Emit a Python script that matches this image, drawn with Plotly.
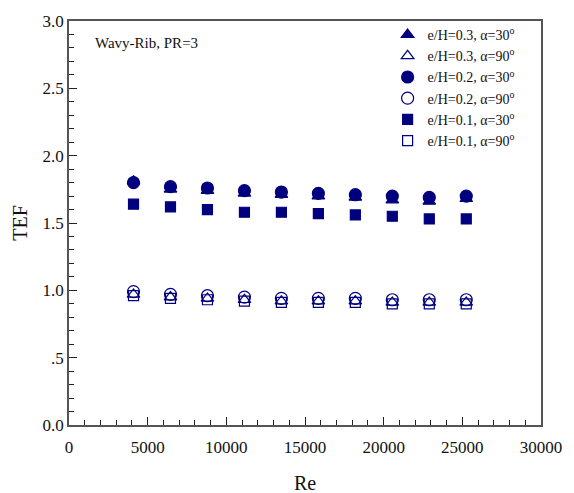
import plotly.graph_objects as go

# Reynolds numbers of the test runs
re_vals = [4100, 6450, 8800, 11150, 13500, 15850, 18200, 20550, 22900, 25250]

# Thermal enhancement factor for each rib configuration
tef_h03_a30 = [1.81, 1.75, 1.74, 1.72, 1.71, 1.70, 1.69, 1.67, 1.66, 1.68]
tef_h03_a90 = [0.97, 0.95, 0.94, 0.93, 0.92, 0.92, 0.92, 0.91, 0.91, 0.91]
tef_h02_a30 = [1.80, 1.77, 1.76, 1.74, 1.73, 1.72, 1.71, 1.70, 1.69, 1.70]
tef_h02_a90 = [0.99, 0.97, 0.96, 0.95, 0.94, 0.94, 0.94, 0.93, 0.93, 0.93]
tef_h01_a30 = [1.64, 1.62, 1.60, 1.58, 1.58, 1.57, 1.56, 1.55, 1.53, 1.53]
tef_h01_a90 = [0.96, 0.94, 0.93, 0.92, 0.91, 0.91, 0.91, 0.90, 0.90, 0.90]

series_names = [
    "e/H=0.3, α=30<sup>o</sup>",
    "e/H=0.3, α=90<sup>o</sup>",
    "e/H=0.2, α=30<sup>o</sup>",
    "e/H=0.2, α=90<sup>o</sup>",
    "e/H=0.1, α=30<sup>o</sup>",
    "e/H=0.1, α=90<sup>o</sup>",
]
series_values = [tef_h03_a30, tef_h03_a90, tef_h02_a30, tef_h02_a90, tef_h01_a30, tef_h01_a90]
series_symbols = ["triangle-up", "triangle-up-open", "circle", "circle-open", "square", "square-open"]
series_sizes = [11, 11, 12, 12, 10, 10]

y_ticks = [0.0, 0.5, 1.0, 1.5, 2.0, 2.5, 3.0]
y_tick_text = ["0.0", ".5", "1.0", "1.5", "2.0", "2.5", "3.0"]
x_ticks = [0, 5000, 10000, 15000, 20000, 25000, 30000]

NAVY = "#00007f"
FONT = "Liberation Serif"

fig = go.Figure()
for name, vals, sym, size in zip(series_names, series_values, series_symbols, series_sizes):
    fig.add_trace(go.Scatter(
        x=re_vals, y=vals, mode="markers", name=name,
        marker=dict(symbol=sym, size=size, color=NAVY, line=dict(color=NAVY, width=1.2)),
    ))

axis_common = dict(
    showgrid=False, zeroline=False, showline=True, mirror=True,
    linecolor="#555555", linewidth=1.5,
    ticks="inside", ticklen=8, tickwidth=1, tickcolor="#222222",
    tickfont=dict(family=FONT, size=17, color="#111111"),
)

fig.update_xaxes(
    range=[0, 30000], tickvals=x_ticks, ticktext=[str(v) for v in x_ticks],
    ticklabelstandoff=6,
    minor=dict(dtick=1000, ticks="inside", ticklen=5, tickcolor="#222222"),
    **axis_common,
)
fig.update_yaxes(
    range=[0, 3], tickvals=y_ticks, ticktext=y_tick_text,
    minor=dict(dtick=0.1, ticks="inside", ticklen=5, tickcolor="#222222"),
    title=dict(text="TEF", font=dict(family=FONT, size=20, color="#111111"), standoff=10),
    **axis_common,
)

# x-axis title placed as a paper annotation so the bottom margin stays fixed
fig.add_annotation(
    text="Re", xref="paper", yref="paper", x=0.5, y=-0.143,
    xanchor="center", yanchor="middle", showarrow=False,
    font=dict(family=FONT, size=20, color="#111111"),
)

fig.add_annotation(
    text="Wavy-Rib, PR=3", xref="paper", yref="paper", x=0.05, y=0.945,
    xanchor="left", yanchor="middle", showarrow=False,
    font=dict(family=FONT, size=15, color="#111111"),
)

fig.update_layout(
    width=574, height=493,
    margin=dict(l=69, r=23, t=17, b=68),
    paper_bgcolor="white", plot_bgcolor="white",
    showlegend=True,
    legend=dict(
        x=0.675, y=1.005, xanchor="left", yanchor="top",
        bgcolor="rgba(0,0,0,0)", borderwidth=0,
        font=dict(family=FONT, size=14, color="#111111"),
        itemsizing="trace", tracegroupgap=3,
    ),
)

fig.write_html("out.html")
